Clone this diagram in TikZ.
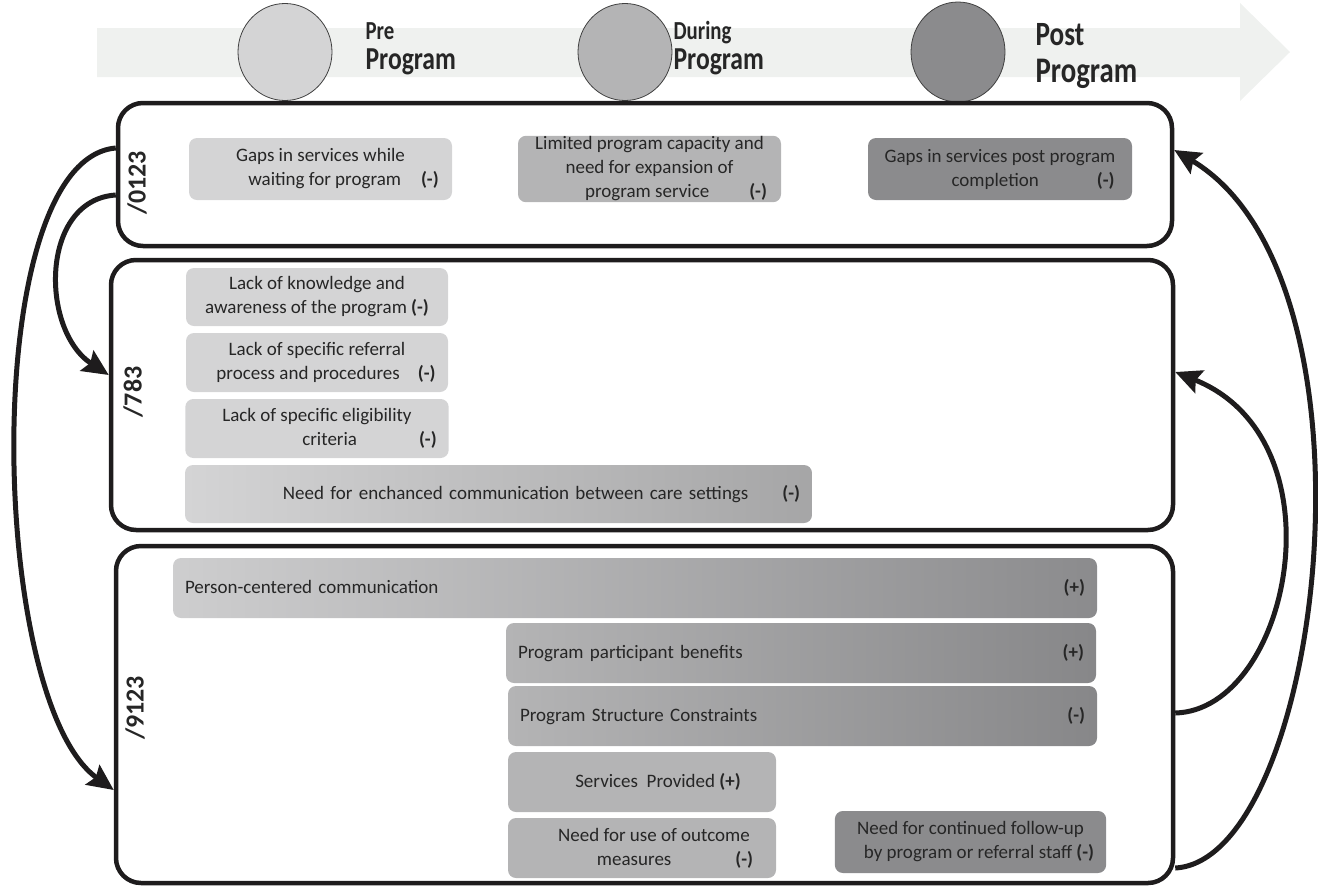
\documentclass[tikz,border=0pt]{standalone}
\usepackage{fontspec}
\setmainfont{Carlito}
\newfontfamily\headFont[FakeStretch=0.8]{Carlito}
\usetikzlibrary{arrows.meta,shapes.geometric,positioning}

\definecolor{bandGray}{HTML}{EFF1EF}
\definecolor{preGray}{HTML}{D4D4D5}
\definecolor{duringGray}{HTML}{B4B4B5}
\definecolor{postGray}{HTML}{8B8B8D}
\definecolor{textGray}{HTML}{262626}
\definecolor{lineGray}{HTML}{1E1C1D}

\newcommand{\negMark}{\textbf{(-)}}
\newcommand{\posMark}{\textbf{(+)}}

\begin{document}
\begin{tikzpicture}[x=1pt,y=1pt,>={Stealth[length=26pt,width=24pt,inset=4pt]},
  panel node/.style={draw=lineGray,line width=4.5pt,rounded corners=25pt,inner sep=0pt},
  item node/.style={rounded corners=8pt,inner xsep=12pt,inner ysep=1pt,text=textGray,align=center,
    font=\fontsize{19}{24}\selectfont},
  bar node/.style={item node,align=left},
  phase dot/.style={ellipse,draw=black!75,line width=0.8pt,minimum width=94pt,minimum height=97pt},
  phase label/.style={inner sep=0pt,align=left,text=textGray,font=\headFont\fontsize{32}{30}\selectfont\bfseries},
  tag node/.style={rotate=90,text=textGray,font=\fontsize{26}{26}\selectfont\bfseries},
  flow/.style={->,line width=5pt,lineGray}]

  \useasboundingbox (0,0) rectangle (1318,-887);

  % timeline band
  \fill[bandGray] (97,-28) -- (1240,-28) -- (1240,-3) -- (1290,-52)
    -- (1240,-101) -- (1240,-77) -- (97,-77) -- cycle;

  \node[phase dot,fill=preGray] (preDot) at (285,-52) {};
  \node[phase dot,fill=duringGray] (duringDot) at (625,-52) {};
  \node[phase dot,fill=postGray,minimum height=100pt] (postDot) at (958,-52) {};

  \node[phase label,right=33pt of preDot,yshift=3.5pt] (preLabel)
    {{\fontsize{26}{26}\selectfont Pre}\\Program};
  \node[phase label,right=1pt of duringDot,yshift=3.5pt] (duringLabel)
    {{\fontsize{26}{26}\selectfont During}\\Program};
  \node[phase label,right=30pt of postDot,yshift=-4.5pt,font=\headFont\fontsize{36}{37}\selectfont\bfseries] (postLabel)
    {{\fontsize{34}{34}\selectfont Post}\\Program};

  % panels
  \node[panel node,minimum width=1054pt,minimum height=143pt] (topPanel) at (645,-174.5) {};
  \node[panel node,minimum width=1062pt,minimum height=270pt] (midPanel) at (642,-395) {};
  \node[panel node,minimum width=1057pt,minimum height=337pt] (lowPanel) at (644.5,-714.5) {};

  \node[tag node] (topTag) at (137,-183) {/0123};
  \node[tag node] (midTag) at (133,-392) {/783};
  \node[tag node] (lowTag) at (135,-708) {/9123};

  % top panel
  \node[item node,fill=preGray,minimum width=263pt,minimum height=62pt] (gapWait) at (320.5,-169)
    {Gaps in services while\\\hspace{46pt}waiting for program\hspace{20pt}\negMark};
  \node[item node,fill=duringGray,minimum width=263pt,minimum height=62pt] (capacity) at (649.5,-169)
    {Limited program capacity and\\need for expansion of\\\hspace{53pt}program service\hspace{40pt}\negMark};
  \node[item node,fill=postGray,minimum width=264pt,minimum height=62pt] (gapPost) at (1000,-169)
    {Gaps in services post program\\\hspace{66pt}completion\hspace{58pt}\negMark};

  % middle panel
  \node[item node,fill=preGray,minimum width=262pt,minimum height=58pt] (knowledge) at (317,-297)
    {Lack of knowledge and\\awareness of the program \negMark};
  \node[item node,fill=preGray,minimum width=262pt,minimum height=59pt] (referral) at (317,-362.5)
    {Lack of specific referral\\\hspace{18pt}process and procedures\hspace{18pt}\negMark};
  \node[item node,fill=preGray,minimum width=262pt,minimum height=59pt] (eligible) at (317,-428.5)
    {Lack of specific eligibility\\\hspace{105pt}criteria\hspace{62pt}\negMark};
  \node[item node,align=right,left color=preGray,right color=duringGray!92!black,
    text width=603pt,minimum height=58pt] (settings) at (498.5,-494)
    {Need for enchanced communication between care settings\hspace{34pt}\negMark};

  % lower panel
  \node[bar node,left color=preGray!97!black,right color=postGray,
    text width=900pt,minimum height=60pt] (personComm) at (635,-588)
    {Person-centered communication\hfill\posMark};
  \node[bar node,left color=duringGray,right color=postGray!97!black,
    text width=566pt,minimum height=60pt] (benefits) at (801,-653)
    {Program participant benefits\hfill\posMark};
  \node[bar node,left color=duringGray,right color=postGray!97!black,
    text width=565pt,minimum height=60pt] (structure) at (802.5,-716)
    {Program Structure Constraints\hfill\negMark\hspace{4pt}};
  \node[item node,fill=duringGray,minimum width=268pt,minimum height=60pt] (provided) at (642,-782)
    {\hspace{32pt}Services\ \ Provided\ \posMark};
  \node[item node,fill=duringGray,minimum width=268pt,minimum height=60pt] (outcome) at (642,-848)
    {\hspace{24pt}Need for use of outcome\\\hspace{66pt}measures\hspace{64pt}\negMark};
  \node[item node,fill=postGray,minimum width=269pt,minimum height=62pt] (followUp) at (970.5,-842)
    {Need for continued follow-up\\\hspace{17pt}by program or referral staff \negMark};

  % feedback arrows
  \draw[flow] ([yshift=26.5pt]topPanel.west) .. controls (-22,-160) and (-12,-700) .. ([yshift=-75.5pt]lowPanel.west);
  \draw[flow] ([yshift=-20.5pt]topPanel.west) .. controls (40,-200) and (40,-330) .. ([yshift=20pt]midPanel.west);
  \draw[flow] ([yshift=-153.5pt]lowPanel.east) .. controls (1322,-860) and (1392,-280) .. ([yshift=24.5pt]topPanel.east);
  \draw[flow] ([yshift=1.5pt]lowPanel.east) .. controls (1290,-710) and (1345,-440) .. ([yshift=23pt]midPanel.east);
\end{tikzpicture}
\end{document}
